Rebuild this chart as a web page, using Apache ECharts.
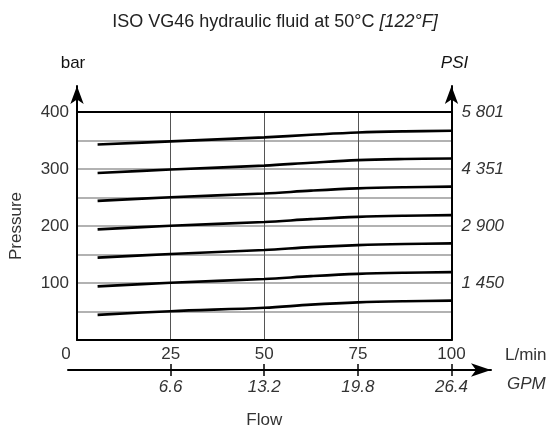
<!DOCTYPE html>
<html><head><meta charset="utf-8">
<script src="https://cdn.jsdelivr.net/npm/echarts@6/dist/echarts.min.js"></script>
<style>html,body{margin:0;padding:0;background:#fff}#c{width:550px;height:431px}</style>
</head><body><div id="c"></div>
<script>
// Flow (L/min) sample points along each pressure curve
const flows = [5.5, 25, 50, 62.5, 75, 87.5, 100];
// Pressure (bar) curves
const curve1 = [44, 50.5, 56.5, 62, 66, 68, 69];
const curve2 = [94, 100.5, 107, 112, 116, 118, 119];
const curve3 = [144.5, 151, 158, 163, 166.5, 168.5, 169.5];
const curve4 = [194, 200.5, 207, 212, 216, 218, 219];
const curve5 = [244, 250.5, 257, 262, 266, 268, 269];
const curve6 = [293, 299, 306, 311, 315.5, 317.5, 318.5];
const curve7 = [343, 348.5, 355.5, 360, 364, 366, 367];
const curves = [curve1, curve2, curve3, curve4, curve5, curve6, curve7];

// Tick labels
const barTicks = [100, 200, 300, 400];
const barLabels = ['100', '200', '300', '400'];
const psiLabels = ['1 450', '2 900', '4 351', '5 801'];
const lpmTicks = [0, 25, 50, 75, 100];
const lpmLabels = ['0', '25', '50', '75', '100'];
const gpmTicks = [25, 50, 75, 100];
const gpmLabels = ['6.6', '13.2', '19.8', '26.4'];

const FONT = '"Liberation Sans", Arial, sans-serif';
const TXT = '#333';
const FS = 17;

const chart = echarts.init(document.getElementById('c'), null, {renderer: 'canvas'});

function pick(ticks, labels) {
  return function (v) {
    const i = ticks.indexOf(Math.round(v * 1000) / 1000);
    return i < 0 ? '' : labels[i];
  };
}

const option = {
  backgroundColor: '#fff',
  animation: false,
  textStyle: {fontFamily: FONT},
  title: [
    {
      text: 'ISO VG46 hydraulic fluid at 50°C {i|[122°F]}',
      left: 'center',
      top: 8,
      textStyle: {
        fontFamily: FONT, fontSize: 18, fontWeight: 'normal', color: '#222',
        rich: {i: {fontFamily: FONT, fontSize: 18, fontStyle: 'italic', color: '#222'}}
      }
    },
    {
      text: 'L/min', left: 500, top: 342,
      textStyle: {fontFamily: FONT, fontSize: FS, fontWeight: 'normal', color: TXT}
    },
    {
      text: 'GPM', left: 502, top: 371,
      textStyle: {fontFamily: FONT, fontSize: FS, fontWeight: 'normal', fontStyle: 'italic', color: TXT}
    }
  ],
  grid: [
    {left: 77, right: 98.5, top: 112, bottom: 91, outerBoundsMode: 'none', containLabel: false},   // plot area
    {left: 77, right: 98.5, top: 86, bottom: 91, outerBoundsMode: 'none', containLabel: false},    // arrow axes
    {left: 68, right: 59, top: 360, bottom: 61, outerBoundsMode: 'none', containLabel: false}      // flow arrow axis
  ],
  xAxis: [
    { // 0: plot bottom, L/min labels
      type: 'value', gridIndex: 0, min: 0, max: 100, interval: 25,
      name: 'Flow', nameLocation: 'middle', nameGap: 72,
      nameTextStyle: {fontFamily: FONT, fontSize: FS, color: TXT},
      axisLine: {show: true, lineStyle: {color: '#000', width: 2}},
      axisTick: {show: false},
      splitLine: {show: true, lineStyle: {color: '#555', width: 1}},
      axisLabel: {
        margin: 6, fontFamily: FONT, fontSize: FS, color: TXT,
        formatter: function (v) {
          const i = lpmTicks.indexOf(v);
          if (i < 0) return '';
          return v === 0 ? '{z|' + lpmLabels[i] + '}' : lpmLabels[i];
        },
        rich: {z: {fontFamily: FONT, fontSize: FS, color: TXT, padding: [0, 22, 0, 0]}}
      }
    },
    { // 1: plot top border (400 bar line)
      type: 'value', gridIndex: 0, min: 0, max: 100, position: 'top',
      axisLine: {show: true, lineStyle: {color: '#000', width: 2}},
      axisTick: {show: false}, axisLabel: {show: false}, splitLine: {show: false}
    },
    { // 2: flow arrow axis with GPM labels
      type: 'value', gridIndex: 2, min: -2.403, max: 110.55, position: 'bottom',
      axisLine: {show: true, symbol: ['none', 'arrow'], symbolSize: [10, 20], lineStyle: {color: '#000', width: 2}},
      axisTick: {show: true, customValues: gpmTicks, length: 6, inside: false, lineStyle: {color: '#000', width: 1.5}},
      axisLabel: {
        show: true, customValues: gpmTicks, margin: 9, fontFamily: FONT, fontSize: FS,
        fontStyle: 'italic', color: TXT, formatter: pick(gpmTicks, gpmLabels)
      },
      splitLine: {show: false}
    },
    { // 3: upward tick halves
      type: 'value', gridIndex: 2, min: -2.403, max: 110.55, position: 'bottom',
      axisLine: {show: false},
      axisTick: {show: true, customValues: gpmTicks, length: 6, inside: true, lineStyle: {color: '#000', width: 1.5}},
      axisLabel: {show: false}, splitLine: {show: false}
    },
    { // 4: hidden partner for grid 1
      type: 'value', gridIndex: 1, min: 0, max: 100, show: false
    }
  ],
  yAxis: [
    { // 0: plot y (split lines every 50 bar)
      type: 'value', gridIndex: 0, min: 0, max: 400, interval: 50,
      name: 'Pressure', nameLocation: 'middle', nameRotate: 90, nameGap: 52,
      nameTextStyle: {fontFamily: FONT, fontSize: FS, color: TXT},
      axisLine: {show: false}, axisTick: {show: false}, axisLabel: {show: false},
      splitLine: {show: true, lineStyle: {color: '#999', width: 1.5}}
    },
    { // 1: left bar arrow axis
      type: 'value', gridIndex: 1, min: 0, max: 445.61, interval: 100, position: 'left',
      name: 'bar', nameLocation: 'end', nameGap: 14,
      nameTextStyle: {fontFamily: FONT, fontSize: FS, color: '#111', padding: [0, 8, 0, 0]},
      axisLine: {show: true, symbol: ['none', 'arrow'], symbolSize: [10, 18], lineStyle: {color: '#000', width: 2}},
      axisTick: {show: false},
      axisLabel: {margin: 8, fontFamily: FONT, fontSize: FS, color: TXT, formatter: pick(barTicks, barLabels)},
      splitLine: {show: false}
    },
    { // 2: right PSI arrow axis
      type: 'value', gridIndex: 1, min: 0, max: 445.61, interval: 100, position: 'right',
      name: 'PSI', nameLocation: 'end', nameGap: 14,
      nameTextStyle: {fontFamily: FONT, fontSize: FS, fontStyle: 'italic', color: '#111', padding: [0, 0, 0, 6]},
      axisLine: {show: true, symbol: ['none', 'arrow'], symbolSize: [10, 18], lineStyle: {color: '#000', width: 2}},
      axisTick: {show: false},
      axisLabel: {margin: 10, fontFamily: FONT, fontSize: FS, fontStyle: 'italic', color: TXT, formatter: pick(barTicks, psiLabels)},
      splitLine: {show: false}
    },
    { // 3: hidden partner for grid 2
      type: 'value', gridIndex: 2, min: 0, max: 1, show: false
    }
  ],
  series: curves.map(function (c, k) {
    return {
      name: 'curve' + (k + 1),
      type: 'line', xAxisIndex: 0, yAxisIndex: 0,
      data: flows.map(function (f, i) { return [f, c[i]]; }),
      smooth: 0.35, symbol: 'none', silent: true, z: 3,
      lineStyle: {color: '#000', width: 2.6}
    };
  })
};
chart.setOption(option);
</script>
</body></html>
